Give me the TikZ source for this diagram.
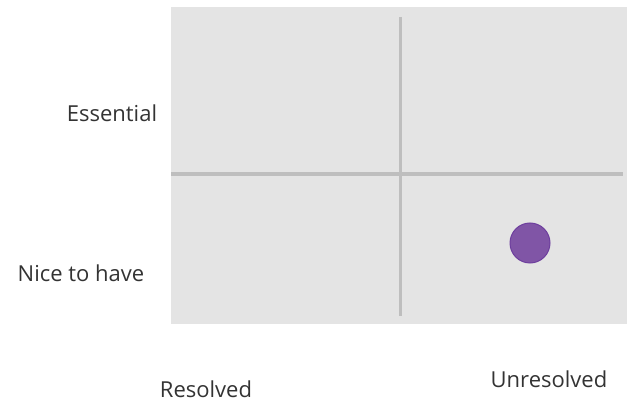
\documentclass[tikz,border=0pt]{standalone}
\usepackage{fontspec}
\setmainfont{Open Sans}
\usetikzlibrary{positioning}
\definecolor{panelgray}{HTML}{E4E4E4}
\definecolor{axisgray}{HTML}{BEBEBE}
\definecolor{labelgray}{HTML}{333333}
\definecolor{dotfill}{HTML}{8055A6}
\definecolor{dotedge}{HTML}{6E3F9E}

\begin{document}
\begin{tikzpicture}[x=1pt, y=-1pt,
  axislabel/.style={text=labelgray, font=\fontsize{22}{24}\selectfont, anchor=base, inner sep=0}]
  \useasboundingbox (0,0) rectangle (633,401);

  % Panel
  \fill[panelgray] (171,7) rectangle (627,324);

  % Axes
  \coordinate (vtop) at (400,17);
  \coordinate (vbot) at (400,316);
  \coordinate (hleft) at (171,174);
  \coordinate (hright) at (623,174);
  \draw[axisgray, line width=3pt] (vtop) -- (vbot);
  \draw[axisgray, line width=3.5pt] (hleft) -- (hright);

  % Item
  \node[circle, fill=dotfill, draw=dotedge, line width=1pt, minimum size=40pt, inner sep=0] (item) at (530,243) {};

  % Labels
  \node[axislabel] (essential) at (112,122) {Essential};
  \node[axislabel] (nice) at (81,282) {Nice to have};
  \node[axislabel] (resolved) at (206,397) {Resolved};
  \node[axislabel] (unresolved) at (549,388) {Unresolved};
\end{tikzpicture}
\end{document}
